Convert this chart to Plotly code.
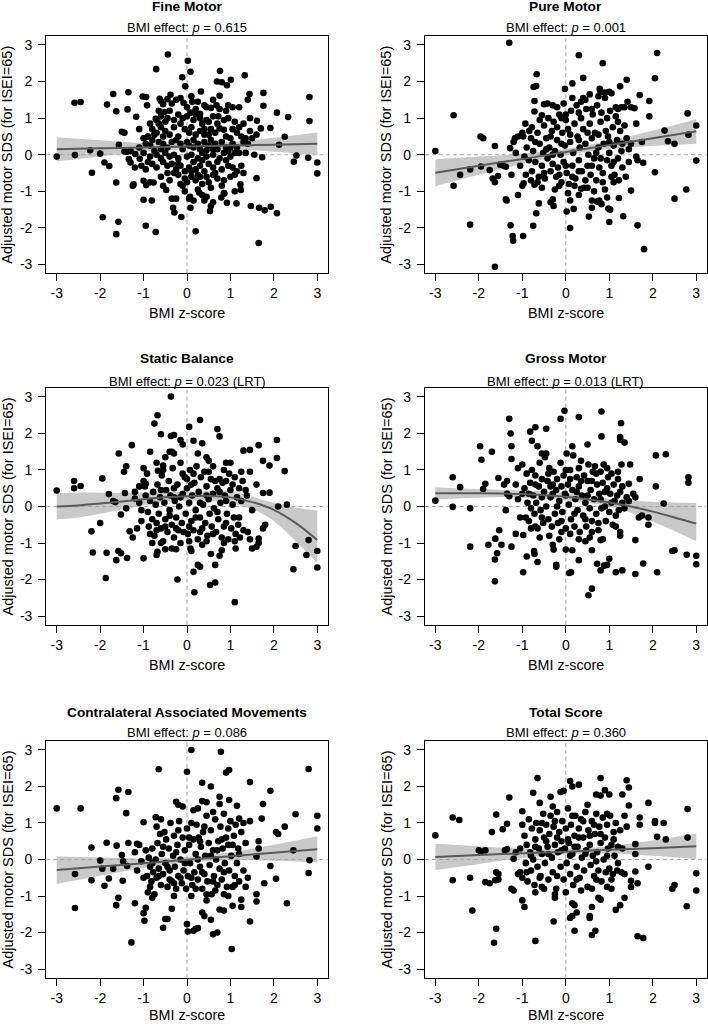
import plotly.graph_objects as go

FONT = "Liberation Sans, Arial, Helvetica, sans-serif"

# Panel texts
titles = ["Fine Motor", "Pure Motor", "Static Balance", "Gross Motor",
          "Contralateral Associated Movements", "Total Score"]
pvals = ["0.615", "0.001", "0.023 (LRT)", "0.013 (LRT)", "0.086", "0.360"]
tick_vals = [-3, -2, -1, 0, 1, 2, 3]
tick_labels = ["-3", "-2", "-1", "0", "1", "2", "3"]
x_title = "BMI z-score"
y_title = "Adjusted motor SDS (for ISEI=65)"

# Scatter points (BMI z-score, adjusted motor SDS)
fine_pts = [
    (-3.0, -0.05), (-2.58, -0.01), (-2.59, 1.42), (-2.45, 1.44), (-2.23, 0.12), (-2.19, -0.49), (-2.0, 0.03),
    (-1.94, -1.71), (-1.9, -0.21), (-1.79, -0.31), (-1.84, 1.37), (-1.7, 1.66), (-1.63, 1.19), (-1.63, -0.76),
    (-1.57, 0.27), (-1.58, -1.83), (-1.63, -2.17), (-1.5, 0.63), (-1.44, 0.6), (-1.35, 1.71), (-1.37, 1.24),
    (-1.38, 0.08), (-1.34, -0.12), (-1.3, -0.21), (-1.44, 0.09), (-1.23, -0.81), (-1.17, 1.04), (-1.19, 0.02),
    (-1.09, -0.11), (-1.02, 1.59), (-0.94, 1.58), (-1.0, -1.23), (-0.95, -1.94), (-1.0, -0.71), (-0.94, -0.83),
    (-0.92, 1.35), (-0.91, 0.49), (-0.81, -1.25), (-0.77, -0.76), (-0.72, -2.11), (-0.71, 2.34), (-0.63, 1.53),
    (-0.72, 0.98), (-0.52, 1.17), (-0.48, -0.96), (-0.44, 2.74), (-0.38, 1.64), (-0.32, -1.45), (-0.29, -1.58),
    (-0.13, -1.7), (-0.11, 2.12), (-0.04, 1.87), (0.02, 2.57), (0.08, 2.27), (0.07, -1.15), (0.08, -1.45),
    (0.2, -2.09), (0.32, 1.73), (0.28, -1.03), (0.53, -1.54), (0.75, 1.61), (0.76, 2.29), (0.8, 1.98),
    (0.69, 2.0), (0.79, -1.17), (0.86, -1.06), (0.92, 1.9), (1.01, 2.05), (0.92, -1.31), (1.14, -1.33),
    (1.23, -0.81), (1.24, -0.96), (1.33, 2.17), (1.4, 1.5), (1.44, 1.66), (1.47, -1.4), (1.6, -0.64),
    (1.61, 0.93), (1.66, -1.45), (1.65, -2.41), (1.73, -0.07), (1.76, 1.69), (1.76, 1.34), (1.7, 0.72),
    (1.79, -1.52), (1.92, 0.73), (1.93, -1.42), (2.07, 1.15), (2.07, -1.6), (2.12, 0.27), (2.25, 0.49),
    (2.33, 1.03), (2.46, -0.19), (2.52, -0.02), (2.82, 1.58), (2.82, 0.92), (2.79, -0.08), (3.0, -0.21),
    (3.0, -0.51),
    (-0.6, 1.47), (-0.55, 1.38), (-0.45, 1.52), (-0.35, 1.4), (-0.25, 1.5), (-0.15, 1.55), (-0.08, 1.42),
    (0.1, 1.6), (0.12, 1.45), (0.2, 1.25), (0.3, 1.12), (0.4, 1.35), (0.45, 1.3), (0.55, 1.28), (0.68, 1.35),
    (0.75, 1.25), (0.95, 1.35), (1.05, 1.3), (1.2, 1.3), (-0.7, 0.95), (-0.65, 0.85), (-0.6, 1.05),
    (-0.5, 0.9), (-0.45, 1.0), (-0.3, 0.95), (-0.2, 1.1), (-0.1, 1.0), (0.0, 1.05), (0.08, 1.15), (0.15, 0.95),
    (0.2, 1.1), (0.3, 1.0), (0.35, 0.85), (0.45, 0.95), (0.5, 0.9), (0.6, 1.05), (0.72, 1.05), (0.85, 0.95),
    (0.95, 1.0), (1.1, 0.9), (1.3, 0.85), (1.45, 1.0), (-0.8, 0.7), (-0.75, 0.55), (-0.7, 0.6), (-0.6, 0.75),
    (-0.5, 0.65), (-0.4, 0.55), (-0.3, 0.75), (-0.2, 0.5), (-0.05, 0.7), (0.05, 0.6), (0.1, 0.75), (0.2, 0.55),
    (0.3, 0.65), (0.4, 0.7), (0.5, 0.55), (0.55, 0.7), (0.65, 0.6), (0.75, 0.72), (0.85, 0.68), (0.9, 0.5),
    (1.0, 0.45), (1.05, 0.7), (1.15, 0.6), (1.25, 0.5), (1.35, 0.45), (1.5, 0.45), (1.6, 0.55), (-1.0, 0.45),
    (-0.9, 0.5), (-1.1, 0.2), (-0.95, 0.3), (-0.85, 0.25), (-0.8, 0.4), (-0.65, 0.35), (-0.55, 0.3),
    (-0.45, 0.2), (-0.35, 0.35), (-0.25, 0.4), (-0.15, 0.3), (-0.1, 0.15), (0.0, 0.35), (0.05, 0.25),
    (0.15, 0.4), (0.25, 0.3), (0.3, 0.15), (0.4, 0.35), (0.5, 0.25), (0.55, 0.4), (0.65, 0.3), (0.7, 0.15),
    (0.8, 0.35), (0.9, 0.2), (1.05, 0.3), (1.15, 0.2), (1.3, 0.35), (1.4, 0.3), (-1.3, 0.1), (-0.75, 0.1),
    (0.45, 0.12), (0.95, 0.1), (-1.0, 0.05), (-0.85, -0.05), (-0.7, 0.0), (-0.6, -0.1), (-0.5, 0.05),
    (-0.4, -0.05), (-0.3, 0.0), (-0.2, -0.1), (0.0, -0.05), (0.1, 0.0), (0.25, -0.1), (0.35, 0.05),
    (0.45, -0.05), (0.6, 0.0), (0.75, -0.1), (0.85, 0.05), (1.0, -0.05), (1.1, 0.05), (1.2, 0.05),
    (1.35, 0.05), (1.55, 0.0), (-1.2, -0.35), (-1.05, -0.3), (-0.95, -0.4), (-0.8, -0.25), (-0.7, -0.35),
    (-0.55, -0.2), (-0.45, -0.3), (-0.35, -0.25), (-0.25, -0.4), (-0.15, -0.3), (-0.05, -0.45), (0.05, -0.35),
    (0.15, -0.2), (0.2, -0.4), (0.3, -0.3), (0.4, -0.45), (0.5, -0.25), (0.6, -0.35), (0.7, -0.2),
    (0.8, -0.4), (0.95, -0.3), (1.05, -0.35), (1.15, -0.45), (1.25, -0.3), (-0.3, -0.5), (0.35, -0.15),
    (-1.25, -0.85), (-0.85, -0.75), (-0.6, -0.6), (-0.4, -0.7), (-0.2, -0.55), (-0.15, -0.8), (-0.05, -0.65),
    (0.0, -0.75), (0.1, -0.6), (0.2, -0.7), (0.25, -0.55), (0.35, -0.8), (0.45, -0.6), (0.5, -0.75),
    (0.6, -0.55), (0.7, -0.65), (0.85, -0.7), (1.0, -0.6), (1.1, -0.55), (-0.1, -0.85), (0.55, -0.9),
    (-0.35, -1.2), (-0.25, -1.2), (0.05, -1.2), (0.15, -1.25), (0.35, -1.1), (0.4, -1.25), (0.45, -1.15),
    (0.55, -1.4), (0.6, -1.3), (0.85, -1.05), (1.1, -1.0),
    (-0.65, 1.2), (-0.4, 1.2), (0.0, 1.3), (0.25, 1.45), (0.6, 1.5), (0.9, 1.2), (-0.85, 0.85), (-0.15, 0.85),
    (0.4, 0.55), (0.7, 0.85), (1.2, 0.75), (-0.55, 0.5), (0.15, 0.2), (0.6, 0.15), (-0.6, 0.15), (1.0, 0.2),
    (-0.45, -0.5), (0.1, -0.45), (0.65, -0.5), (-0.9, -0.2), (0.9, -0.15), (-0.2, -0.25), (0.3, -0.6),
    (0.8, -0.85), (-0.55, -0.85), (0.25, -0.95), (-0.05, -1.0), (1.3, -0.5), (1.45, 0.65), (-1.1, 0.7),
]

pure_pts = [
    (-3.0, 0.1), (-2.58, 1.08), (-2.58, -0.85), (-2.43, -0.55), (-2.2, -1.91), (-2.2, -0.4), (-1.96, 0.5),
    (-1.9, 0.45), (-1.95, -0.32), (-1.75, -0.42), (-1.63, 0.24), (-1.68, -0.65), (-1.63, -0.75), (-1.56, -0.58),
    (-1.63, -3.06), (-1.51, -0.27), (-1.45, -0.29), (-1.38, -0.33), (-1.3, 3.06), (-1.28, 0.18), (-1.38, -1.22),
    (-1.36, -1.25), (-1.27, -1.93), (-1.22, -2.22), (-1.21, -2.35), (-1.17, 0.45), (-1.2, 0.35), (-1.1, -1.1),
    (-0.98, -2.22), (-1.0, 0.6), (-0.98, 0.5), (-0.93, 0.85), (-0.97, -0.78), (-0.92, -0.55), (-0.84, 0.65),
    (-0.78, 0.75), (-0.74, 1.85), (-0.68, 1.88), (-0.67, 2.2), (-0.72, 1.47), (-0.72, 1.18), (-0.75, -1.94),
    (-0.68, -1.6), (-0.62, -1.33), (-0.72, -0.82), (-0.5, 1.38), (-0.42, 1.4), (-0.55, 1.08), (-0.3, 1.35),
    (-0.35, -1.3), (-0.28, -1.4), (-0.3, -1.22), (-0.1, 1.0), (-0.02, 1.8), (0.02, -1.55), (0.1, -2.0),
    (0.15, 1.95), (0.1, -1.25), (0.18, -1.48), (0.3, 2.72), (0.4, 2.1), (0.4, 1.55), (0.45, 1.5), (0.35, -0.93),
    (0.5, -0.9), (0.53, -1.69), (0.6, -1.45), (0.6, -1.25), (0.72, -1.28), (0.77, -1.25), (0.82, -1.35),
    (0.78, 1.8), (0.8, 1.72), (0.75, 1.6), (0.85, 2.5), (0.9, 1.55), (0.95, -1.17), (1.0, 1.72), (1.05, 1.68),
    (0.98, -1.47), (1.02, -1.5), (1.0, -1.84), (1.05, -0.6), (1.1, -0.75), (1.25, 1.87), (1.2, 1.25),
    (1.28, 1.3), (1.35, 1.3), (1.22, -1.18), (1.32, -1.68), (1.4, 2.05), (1.42, 1.45), (1.5, 1.3), (1.45, 0.15),
    (1.5, 0.3), (1.5, -0.98), (1.58, 1.27), (1.62, 0.85), (1.62, -0.05), (1.65, -0.15), (1.65, -1.93),
    (1.7, 1.63), (1.75, 0.35), (1.78, -0.22), (1.8, -2.58), (1.92, 1.47), (1.92, 1.05), (2.05, 2.09),
    (2.1, 2.78), (2.05, -0.48), (2.27, 0.66), (2.35, 0.37), (2.5, 0.3), (2.5, -1.2), (2.8, 1.13), (2.82, 0.55),
    (2.77, -0.95), (3.0, 0.8), (3.0, -0.16),
    (-0.9, 0.2), (-0.85, -0.15), (-0.8, 0.45), (-0.78, -0.45), (-0.75, 0.1), (-0.7, -0.2), (-0.65, 0.6),
    (-0.62, -0.6), (-0.6, 0.3), (-0.55, -0.3), (-0.52, 0.05), (-0.5, 0.8), (-0.48, -0.65), (-0.45, 0.45),
    (-0.42, -0.1), (-0.4, 1.0), (-0.38, 0.2), (-0.35, -0.45), (-0.32, 0.65), (-0.3, -0.25), (-0.28, 0.9),
    (-0.25, 0.1), (-0.22, -0.6), (-0.2, 0.4), (-0.18, -0.35), (-0.15, 1.1), (-0.12, 0.0), (-0.1, -0.75),
    (-0.08, 0.6), (-0.05, -0.2), (-0.02, 0.25), (0.0, 0.95), (0.02, -0.5), (0.05, 0.7), (0.07, -0.8),
    (0.1, 0.35), (0.12, 1.2), (0.15, -0.3), (0.17, 0.05), (0.2, 0.85), (0.22, -0.65), (0.25, 1.35),
    (0.27, 0.5), (0.3, -0.15), (0.32, 0.2), (0.35, 1.0), (0.37, -0.45), (0.4, 0.7), (0.42, -0.9), (0.45, 0.3),
    (0.47, 1.25), (0.5, -0.3), (0.52, 0.0), (0.55, 0.85), (0.57, -0.55), (0.6, 0.45), (0.62, 1.1),
    (0.65, -0.1), (0.67, 0.6), (0.7, -0.7), (0.72, 1.35), (0.75, 0.2), (0.77, -0.35), (0.8, 0.9), (0.82, 1.15),
    (0.85, -0.5), (0.87, 0.3), (0.9, -0.95), (0.92, 0.65), (0.95, -0.15), (0.97, 0.5), (1.0, 0.05),
    (1.02, 1.2), (1.05, -0.3), (1.08, 0.75), (1.1, 0.25), (1.12, -0.55), (1.15, 1.05), (1.18, 0.4),
    (1.2, -0.1), (1.22, -0.7), (1.25, 0.65), (1.28, 0.1), (1.3, -0.35), (1.35, 0.8), (1.38, -0.6), (1.4, 0.45),
    (1.45, -0.2), (-1.05, -0.3), (-1.1, 0.5), (-1.0, -0.85), (-0.95, -0.05), (-1.15, 0.05), (-1.25, -0.55),
    (-0.65, -0.75), (-0.25, -0.95), (0.05, -1.05), (0.2, -0.85), (0.3, -1.1), (-0.15, -0.85), (-0.55, -0.9),
    (0.65, -1.0), (0.9, 1.7), (0.55, 1.65), (-0.2, 1.3), (0.15, 1.55), (-0.6, 0.95), (0.35, 1.45), (-0.05, 1.4),
    (-0.7, 0.35), (-0.35, 0.5), (-0.1, 0.3), (0.1, 0.55), (0.3, 0.4), (0.5, 0.6), (0.75, 0.55), (1.0, 0.35),
    (1.2, 0.9), (0.6, 1.25), (0.3, 1.15), (0.0, 1.1), (-0.3, 0.0), (0.0, -0.3), (0.3, -0.45), (0.6, -0.3),
    (0.8, -0.1), (-0.5, -0.5), (-0.15, -0.55), (0.45, -0.7), (0.85, -0.75), (1.1, -0.2), (-0.8, -0.7),
    (0.15, -0.6), (-0.45, 0.15), (0.7, 0.05), (1.3, 0.3), (-0.2, 0.75), (0.95, 1.0), (1.15, 1.3),
]

static_pts = [
    (-3.0, 0.44), (-2.6, 0.7), (-2.6, 0.5), (-2.45, 0.56), (-2.2, -0.68), (-2.17, -1.26), (-2.0, -0.45),
    (-1.95, 0.77), (-1.87, -1.96), (-1.85, -1.27), (-1.8, 0.34), (-1.7, 0.15), (-1.65, 0.12), (-1.63, -1.47),
    (-1.58, -1.22), (-1.52, -1.28), (-1.57, 1.45), (-1.52, -0.22), (-1.45, 0.95), (-1.4, 1.1), (-1.43, 0.37),
    (-1.4, -0.05), (-1.38, -1.41), (-1.32, -0.68), (-1.27, 1.68), (-1.25, -0.85), (-1.2, 0.4), (-1.2, 0.22),
    (-1.0, -1.42), (-1.0, 1.05), (-1.0, 0.7), (-0.95, 0.62), (-0.97, 0.55), (-0.85, 1.5), (-0.75, 2.27),
    (-0.7, 1.2), (-0.67, 0.98), (-0.68, -1.24), (-0.7, -1.33), (-0.68, 2.5), (-0.6, 1.98), (-0.55, 1.12),
    (-0.5, 1.35), (-0.5, -1.17), (-0.37, 3.01), (-0.37, 1.93), (-0.3, 1.96), (-0.35, 1.5), (-0.3, 1.45),
    (-0.35, -1.15), (-0.25, -1.17), (-0.22, -2.0), (-0.1, 1.7), (-0.15, 1.82), (0.05, 2.18), (0.15, 1.8),
    (0.1, -1.22), (0.08, -1.15), (0.15, -1.79), (0.17, -2.35), (0.25, -1.6), (0.3, -1.65), (0.3, 2.37),
    (0.35, 1.73), (0.45, 1.35), (0.5, 1.25), (0.53, -2.15), (0.65, -2.08), (0.55, -1.3), (0.65, -1.6),
    (0.7, 2.12), (0.75, 1.92), (0.75, -1.35), (0.8, -1.2), (0.9, 1.2), (1.0, 1.2), (1.1, -2.62), (1.12, -1.15),
    (1.3, 1.53), (1.45, 1.55), (1.45, -0.9), (1.5, -1.15), (1.6, 0.6), (1.65, 1.68), (1.6, -1.1), (1.65, -1.0),
    (1.65, -0.88), (1.75, 1.25), (1.9, 1.12), (1.75, 0.37), (1.9, 0.38), (1.75, -0.6), (1.8, -0.5),
    (2.07, 1.82), (2.07, 1.33), (2.1, 0.0), (2.25, 0.97), (2.3, 0.05), (2.45, -1.72), (2.5, -1.08),
    (2.8, -0.92), (2.75, -1.33), (3.0, -1.22), (3.0, -1.67),
    (-0.95, 0.3), (-0.9, -0.15), (-0.88, -0.55), (-0.85, 0.15), (-0.8, -0.35), (-0.78, 0.4), (-0.75, -0.8),
    (-0.72, 0.05), (-0.7, -0.45), (-0.68, 0.6), (-0.65, -0.2), (-0.62, 0.25), (-0.6, -0.6), (-0.58, 0.85),
    (-0.55, -0.95), (-0.52, 0.1), (-0.5, -0.35), (-0.48, 0.45), (-0.45, -0.7), (-0.42, 0.7), (-0.4, -0.1),
    (-0.38, 0.3), (-0.35, -0.5), (-0.33, 1.05), (-0.3, -0.85), (-0.28, 0.15), (-0.25, -0.3), (-0.22, 0.6),
    (-0.2, -0.65), (-0.18, 0.0), (-0.15, 1.2), (-0.12, -0.45), (-0.1, 0.35), (-0.08, -0.7), (-0.05, 0.8),
    (-0.03, -0.2), (0.0, 0.5), (0.02, -0.75), (0.05, 0.1), (0.07, 1.0), (0.1, -0.4), (0.12, 0.3),
    (0.15, -0.65), (0.17, 0.65), (0.2, -0.1), (0.22, 1.1), (0.25, -0.9), (0.27, 0.4), (0.3, -0.3),
    (0.32, 0.8), (0.35, -0.6), (0.37, 0.05), (0.4, 0.95), (0.42, -0.45), (0.45, 0.55), (0.47, -0.8),
    (0.5, 0.2), (0.52, -0.2), (0.55, 0.75), (0.57, -0.55), (0.6, 0.35), (0.62, -0.05), (0.65, 0.7),
    (0.67, -0.7), (0.7, 0.5), (0.72, -0.35), (0.75, 0.75), (0.77, 0.1), (0.8, -0.85), (0.82, 0.65),
    (0.85, -0.55), (0.87, 0.3), (0.9, 0.7), (0.92, -0.2), (0.95, -0.9), (0.97, 0.9), (1.0, 0.45),
    (1.02, -0.6), (1.05, 0.05), (1.08, -0.3), (1.1, 0.8), (1.12, -0.75), (1.15, 0.25), (1.18, -0.5),
    (1.2, 0.5), (1.22, -0.85), (1.25, 0.15), (1.28, 0.7), (1.3, -0.65), (1.35, 0.45), (1.38, 0.3),
    (1.4, -0.7), (1.45, 0.95), (1.5, -0.1), (-1.1, 0.55), (-1.05, -0.1), (-1.05, -0.4), (-1.15, -0.6),
    (-1.1, 0.1), (-0.92, 0.9), (-0.4, 1.5), (0.25, 1.45), (0.6, 1.1), (0.15, 0.9), (-0.15, -1.0),
    (0.35, -1.05), (-0.6, -1.0), (0.85, -1.0), (0.05, -0.95), (-0.8, -1.0),
    (-0.6, 0.45), (-0.3, 0.5), (0.1, 0.6), (0.45, 0.3), (0.75, 0.4), (1.05, 0.6), (-0.15, 0.25), (0.3, 0.1),
    (0.9, 0.15), (-0.5, -0.55), (-0.25, -0.6), (0.05, -0.55), (0.3, -0.7), (0.6, -0.75), (0.9, -0.45),
    (1.2, -0.3), (-0.7, -0.65), (-0.4, -0.25), (0.2, -0.3), (0.7, -0.15), (-0.1, 0.9), (0.5, 0.95),
    (0.85, 1.0), (-0.55, 1.0), (1.25, 0.95), (-0.85, -0.75), (0.45, -0.95), (1.1, -0.95), (-0.3, 0.25),
    (0.0, 0.75),
]

gross_pts = [
    (-3.0, 0.16), (-2.6, 0.8), (-2.6, -0.01), (-2.43, 0.53), (-2.2, -0.05), (-2.2, -1.1), (-1.97, 1.65),
    (-1.94, 1.28), (-1.9, 0.48), (-1.85, 0.62), (-1.78, -1.05), (-1.7, 1.5), (-1.63, -2.05), (-1.62, -0.88),
    (-1.63, -1.45), (-1.58, -1.28), (-1.55, 0.78), (-1.48, -1.05), (-1.53, -0.65), (-1.42, 0.6), (-1.35, 0.7),
    (-1.38, -0.1), (-1.3, 2.4), (-1.27, 2.0), (-1.25, 1.65), (-1.25, -1.1), (-1.25, 1.3), (-1.35, 0.35),
    (-1.3, 0.28), (-1.15, 0.6), (-1.1, 1.05), (-1.0, 1.15), (-0.98, -1.8), (-0.98, -0.78), (-0.9, -1.37),
    (-0.82, 2.05), (-0.78, 1.8), (-0.7, 2.17), (-0.72, -1.3), (-0.73, -1.22), (-0.65, -1.52), (-0.65, 1.65),
    (-0.7, -0.55), (-0.45, 2.13), (-0.45, 1.45), (-0.38, -0.8), (-0.3, -1.05), (-0.28, -1.18), (-0.22, -1.6),
    (-0.22, -1.65), (-0.12, 2.4), (-0.03, 2.62), (0.0, -1.18), (0.08, -1.82), (0.12, -1.8), (0.15, -1.2),
    (0.3, 2.45), (0.3, -1.47), (0.5, 1.7), (0.52, -2.43), (0.6, -2.25), (0.55, -0.85), (0.6, -1.2),
    (0.72, -1.57), (0.82, 2.6), (0.82, 1.92), (0.8, -1.75), (0.88, -1.62), (0.95, -1.6), (1.0, -1.43),
    (0.8, -0.92), (1.15, -1.8), (1.27, 2.28), (1.25, 1.9), (1.25, 1.83), (1.35, 1.75), (1.28, 1.15),
    (1.48, 1.15), (1.3, -1.75), (1.25, -0.8), (1.25, -0.7), (1.45, 0.62), (1.6, -0.92), (1.6, -1.85),
    (1.55, 0.35), (1.6, 0.25), (1.7, 0.75), (1.68, -0.3), (1.75, -0.25), (1.78, -1.56), (1.9, -0.3),
    (1.9, -0.5), (2.07, 1.4), (2.07, 0.55), (2.1, -1.8), (2.3, 1.43), (2.25, 0.08), (2.45, -1.22),
    (2.5, -1.2), (2.78, -1.32), (2.82, 0.8), (2.82, 0.65), (3.0, -1.35), (3.0, -1.58),
    (-0.95, 0.5), (-0.92, -0.3), (-0.9, 0.9), (-0.88, 0.1), (-0.85, -0.4), (-0.82, 0.65), (-0.8, -0.05),
    (-0.78, 1.0), (-0.75, 0.3), (-0.72, -0.2), (-0.7, 0.85), (-0.68, 0.1), (-0.65, -0.6), (-0.62, 0.55),
    (-0.6, 1.2), (-0.58, -0.1), (-0.55, 0.75), (-0.52, -0.45), (-0.5, 0.4), (-0.48, 1.35), (-0.45, 0.0),
    (-0.42, 0.7), (-0.4, -0.35), (-0.38, 1.05), (-0.35, 0.25), (-0.32, -0.55), (-0.3, 0.6), (-0.28, 0.95),
    (-0.25, -0.2), (-0.22, 0.45), (-0.2, 0.75), (-0.18, -0.45), (-0.15, 0.15), (-0.12, 1.2), (-0.1, 0.55),
    (-0.08, -0.15), (-0.05, 0.85), (-0.02, 0.35), (0.0, -0.6), (0.02, 1.45), (0.05, 0.6), (0.07, 0.05),
    (0.1, 1.0), (0.12, -0.35), (0.15, 0.45), (0.17, 1.4), (0.2, -0.55), (0.22, 0.2), (0.25, 0.8),
    (0.27, -0.1), (0.3, 0.55), (0.32, -0.7), (0.35, 1.25), (0.37, 0.3), (0.4, -0.25), (0.42, 0.85),
    (0.45, 0.1), (0.47, -0.55), (0.5, 0.7), (0.52, 1.15), (0.55, -0.05), (0.57, 0.45), (0.6, -0.4),
    (0.62, 0.95), (0.65, 0.2), (0.67, 1.1), (0.7, -0.2), (0.72, 0.6), (0.75, -0.65), (0.77, 0.35),
    (0.8, 0.95), (0.82, -0.05), (0.85, 0.65), (0.87, 1.15), (0.9, 0.0), (0.92, -0.4), (0.95, 0.5),
    (0.97, 0.8), (1.0, -0.15), (1.02, 0.35), (1.05, 0.9), (1.08, -0.5), (1.1, 0.6), (1.12, 0.15),
    (1.15, -0.25), (1.18, 0.3), (1.2, 0.75), (1.22, -0.1), (1.25, 0.4), (1.3, 0.1), (1.35, -0.05),
    (1.4, 0.25), (1.45, 0.15), (-1.1, 0.2), (-1.05, -0.3), (-1.15, -0.75), (-1.0, 0.35), (-0.55, 1.45),
    (0.15, 1.65), (-0.15, -0.9), (0.3, -0.9), (0.1, -0.75), (-0.6, -0.85), (0.45, -0.95), (0.85, -0.9),
    (1.3, 0.55),
    (-0.85, 0.35), (-0.55, 0.25), (-0.3, 0.35), (0.0, 0.3), (0.25, 0.4), (0.5, 0.3), (0.8, 0.2), (1.05, 0.1),
    (-0.4, 0.9), (0.0, 1.0), (0.3, 1.05), (0.6, 0.7), (0.95, 1.05), (-0.7, 0.6), (-0.2, 0.0), (0.2, -0.2),
    (0.45, -0.35), (0.75, -0.45), (1.15, -0.55), (-0.55, -0.3), (-0.1, -0.4), (0.35, 0.7), (0.7, 0.9),
    (-0.35, 0.55), (0.1, 0.75), (0.6, -0.7), (-0.8, -0.6), (0.9, 0.4), (1.2, 0.95), (-0.1, -0.7),
]

cam_pts = [
    (-3.0, 1.4), (-2.58, -0.4), (-2.58, -1.33), (-2.45, 1.4), (-2.2, 0.33), (-2.2, -0.57), (-2.0, -0.03),
    (-1.95, -0.25), (-1.85, 0.46), (-1.8, -0.52), (-1.9, -0.72), (-1.7, -0.25), (-1.63, 1.68), (-1.58, 1.91),
    (-1.62, 0.38), (-1.63, -1.25), (-1.58, -1.05), (-1.5, 0.12), (-1.47, -0.05), (-1.48, -0.58), (-1.4, 1.27),
    (-1.35, 1.85), (-1.35, 0.45), (-1.38, -0.18), (-1.28, -2.27), (-1.2, 0.2), (-1.15, 0.43), (-1.2, -1.2),
    (-1.0, 1.02), (-1.0, -1.47), (-0.98, -1.68), (-0.95, -1.32), (-0.72, 1.16), (-0.65, 2.47), (-0.55, -1.87),
    (-0.5, -1.63), (-0.45, -1.63), (-0.35, -1.35), (-0.25, 1.58), (-0.2, 1.5), (0.0, 2.4), (0.1, 3.0),
    (0.0, -1.77), (0.02, -1.97), (0.15, -1.95), (0.2, -1.9), (0.25, -1.88), (0.15, 1.35), (0.35, 2.1),
    (0.35, 1.6), (0.45, 1.57), (0.55, 2.0), (0.6, -2.05), (0.7, -2.0), (0.45, -1.12), (0.35, -1.45),
    (0.4, -1.55), (0.55, -1.65), (0.78, 2.95), (0.75, 1.72), (0.75, 1.52), (0.75, -1.37), (0.85, -1.4),
    (0.9, 2.38), (0.97, 2.45), (0.97, 1.63), (0.95, -1.0), (1.03, -2.45), (1.05, -1.27), (1.15, 1.47),
    (1.2, 1.12), (1.25, -1.1), (1.25, -1.3), (1.45, 2.12), (1.45, 1.05), (1.45, -1.7), (1.6, -0.95),
    (1.6, -1.15), (1.6, 0.08), (1.65, 0.3), (1.65, 0.5), (1.75, 1.52), (1.72, 1.12), (1.78, -0.65),
    (1.92, 1.88), (1.92, -0.18), (2.05, 0.75), (2.1, 0.7), (2.05, -0.53), (2.25, 0.9), (2.3, -1.2),
    (2.45, 0.25), (2.5, 1.24), (2.8, 2.48), (2.8, -0.37), (2.82, -0.02), (3.0, 1.2), (3.0, 0.85),
    (-0.95, 0.25), (-0.92, -0.45), (-0.9, -0.9), (-0.88, 0.05), (-0.85, -0.2), (-0.82, -0.6), (-0.8, 0.3),
    (-0.78, -0.35), (-0.75, -0.95), (-0.72, 0.0), (-0.7, -0.5), (-0.68, 0.45), (-0.65, -0.25), (-0.62, 0.7),
    (-0.6, -0.7), (-0.58, 0.15), (-0.55, -0.4), (-0.52, 0.75), (-0.5, -0.1), (-0.48, 0.55), (-0.45, -0.75),
    (-0.42, 0.3), (-0.4, -0.3), (-0.38, 1.0), (-0.35, -0.6), (-0.32, 0.1), (-0.3, 0.65), (-0.28, -0.2),
    (-0.25, -0.8), (-0.22, 0.4), (-0.2, -0.45), (-0.18, 1.05), (-0.15, 0.0), (-0.12, -0.65), (-0.1, 0.6),
    (-0.08, -0.3), (-0.05, 0.25), (-0.02, -0.8), (0.0, 0.85), (0.02, -0.45), (0.05, 0.4), (0.07, -0.1),
    (0.1, 1.0), (0.12, -0.7), (0.15, 0.55), (0.17, -0.35), (0.2, 0.15), (0.22, 0.95), (0.25, -0.55),
    (0.27, 0.6), (0.3, -0.2), (0.32, 0.35), (0.35, -0.8), (0.37, 0.75), (0.4, -0.4), (0.42, 0.1),
    (0.45, 1.2), (0.47, -0.6), (0.5, 0.45), (0.52, -0.15), (0.55, 0.8), (0.57, -0.95), (0.6, 0.25),
    (0.62, -0.45), (0.65, 1.1), (0.67, 0.0), (0.7, -0.7), (0.72, 0.5), (0.75, -0.25), (0.77, 0.9),
    (0.8, -0.55), (0.82, 0.3), (0.85, 1.25), (0.87, -0.1), (0.9, 0.6), (0.92, -0.75), (0.95, 0.4),
    (0.97, -0.3), (1.0, 1.05), (1.02, 0.1), (1.05, -0.75), (1.08, 0.65), (1.1, -0.45), (1.12, 0.95),
    (1.15, -0.1), (1.18, 0.3), (1.2, -0.6), (1.25, 0.75), (1.3, -0.3), (1.35, 0.45), (1.4, -0.5),
    (-1.05, -0.05), (-1.1, 0.4), (-1.0, -0.5), (-1.15, -0.3), (-0.6, 1.1), (0.25, 1.4), (-0.1, 1.45),
    (0.6, 1.3), (-0.3, -1.0), (0.1, -1.0), (0.45, -0.95), (-0.8, -1.05), (0.85, -0.95), (1.3, 1.0),
    (-0.65, -0.45), (-0.4, -0.55), (-0.15, -0.5), (0.1, -0.5), (0.35, -0.35), (0.6, -0.6), (0.85, -0.35),
    (1.1, -0.7), (-0.55, 0.35), (-0.25, 0.2), (0.05, 0.6), (0.3, 0.5), (0.55, 0.1), (0.8, 0.55), (1.05, 0.4),
    (-0.8, -0.1), (-0.45, -0.2), (-0.05, -0.1), (0.25, 0.0), (0.7, 0.25), (0.95, 0.85), (-0.2, 0.8),
    (0.4, 0.9), (-0.7, 0.9), (1.2, 0.15), (0.2, -0.8), (-0.3, -0.65), (0.65, -0.85), (-0.85, -0.75),
    (1.35, -0.75),
]

total_pts = [
    (-3.0, 0.66), (-2.6, 1.15), (-2.45, 1.08), (-2.6, -0.57), (-2.2, -0.5), (-2.15, -1.4), (-2.0, 0.25),
    (-1.95, 0.22), (-1.85, 0.25), (-1.85, -0.62), (-1.75, -0.65), (-1.7, 0.75), (-1.6, -0.35), (-1.55, -0.4),
    (-1.62, -0.57), (-1.55, -0.55), (-1.6, 1.23), (-1.65, -2.28), (-1.6, -1.9), (-1.45, 0.83), (-1.35, 0.98),
    (-1.4, 0.25), (-1.35, 0.28), (-1.3, 1.7), (-1.25, -0.8), (-1.2, -0.85), (-1.2, 0.02), (-1.05, -0.35),
    (-1.0, -0.5), (-1.0, -1.12), (-0.95, -1.3), (-1.0, 1.32), (-0.7, -2.23), (-0.75, 1.83), (-0.65, 2.23),
    (-0.6, 1.55), (-0.55, -0.75), (-0.35, 1.72), (-0.28, -1.7), (-0.25, -0.95), (-0.25, -1.05), (-0.12, 1.85),
    (-0.05, 1.88), (0.1, 2.15), (0.15, 2.0), (0.3, 2.05), (0.1, -1.6), (0.15, -1.55), (0.15, -1.2),
    (0.2, -1.25), (0.2, -1.95), (0.25, -1.45), (0.55, -1.55), (0.55, -1.6), (0.6, -2.07), (0.68, -1.95),
    (0.6, -1.3), (0.75, -1.05), (0.8, -1.1), (0.7, 1.78), (0.8, 2.23), (0.8, 1.75), (0.9, 1.9), (1.0, 1.78),
    (1.05, -0.8), (1.15, -1.38), (1.25, -1.25), (1.3, 1.78), (1.4, 2.17), (1.45, 1.97), (1.45, 1.48),
    (1.35, -1.05), (1.5, -0.75), (1.5, -0.58), (1.6, 0.42), (1.6, 0.15), (1.6, -0.33), (1.65, -2.1),
    (1.78, -2.15), (1.65, -0.65), (1.7, 1.15), (1.7, 0.95), (1.9, 1.55), (1.9, -0.2), (2.05, 1.05),
    (2.05, 1.0), (2.1, 0.62), (2.25, 1.0), (2.3, 0.55), (2.45, -0.8), (2.5, -0.7), (2.8, 1.38), (2.8, 0.6),
    (2.78, -1.28), (3.0, -0.38), (3.0, -0.85),
    (-0.95, 0.65), (-0.92, -0.1), (-0.9, 0.4), (-0.88, -0.6), (-0.85, 1.1), (-0.82, 0.2), (-0.8, -0.3),
    (-0.78, 0.85), (-0.75, 0.0), (-0.72, -0.7), (-0.7, 0.55), (-0.68, 1.0), (-0.65, -0.2), (-0.62, 0.3),
    (-0.6, 0.8), (-0.58, -0.45), (-0.55, 0.15), (-0.52, 1.25), (-0.5, 0.6), (-0.48, -0.1), (-0.45, 0.95),
    (-0.42, 0.35), (-0.4, -0.55), (-0.38, 0.7), (-0.35, 1.2), (-0.32, 0.05), (-0.3, -0.35), (-0.28, 0.9),
    (-0.25, 0.4), (-0.22, -0.8), (-0.2, 1.3), (-0.18, 0.2), (-0.15, 0.75), (-0.12, -0.2), (-0.1, 0.5),
    (-0.08, 1.05), (-0.05, -0.55), (-0.02, 0.3), (0.0, 0.85), (0.02, -0.1), (0.05, 1.4), (0.07, 0.45),
    (0.1, -0.4), (0.12, 0.95), (0.15, 0.15), (0.17, -0.7), (0.2, 0.65), (0.22, 1.2), (0.25, -0.2),
    (0.27, 0.35), (0.3, 0.85), (0.32, -0.5), (0.35, 1.1), (0.37, 0.05), (0.4, 0.6), (0.42, -0.3),
    (0.45, 1.3), (0.47, 0.25), (0.5, -0.75), (0.52, 0.8), (0.55, 0.4), (0.57, -0.15), (0.6, 1.05),
    (0.62, 0.1), (0.65, -0.45), (0.67, 0.7), (0.7, 1.25), (0.72, 0.2), (0.75, -0.3), (0.77, 0.9),
    (0.8, 0.45), (0.82, -0.6), (0.85, 1.15), (0.87, 0.0), (0.9, 0.6), (0.92, -0.35), (0.95, 0.95),
    (0.97, 0.3), (1.0, -0.25), (1.02, 1.2), (1.05, 0.4), (1.08, -0.4), (1.1, 0.75), (1.12, 0.1),
    (1.15, 1.0), (1.18, -0.3), (1.2, 0.35), (1.25, 0.8), (1.28, -0.35), (1.3, 0.3), (1.35, -0.4),
    (1.4, 0.9), (-1.05, 0.3), (-1.1, -0.4), (-1.0, 0.95), (-1.15, 0.2), (-0.7, -0.9), (0.35, -0.85),
    (0.0, -0.9), (0.6, -0.8), (-0.5, -0.8), (0.95, -0.75), (-0.3, 1.45), (0.5, 1.5),
    (-0.7, 0.35), (-0.45, 0.5), (-0.2, 0.6), (0.05, 0.55), (0.3, 0.6), (0.55, 0.65), (0.8, 0.7), (1.1, 0.55),
    (-0.55, 1.0), (-0.25, 1.05), (0.15, 1.2), (0.4, 1.05), (0.65, 0.95), (0.95, 1.25), (-0.8, 0.1),
    (-0.4, 0.15), (-0.1, 0.25), (0.2, 0.35), (0.45, 0.15), (0.7, -0.05), (0.95, 0.1), (1.2, -0.1),
    (-0.6, -0.5), (-0.2, -0.45), (0.25, -0.55), (0.7, -0.55), (1.05, -0.55), (-0.9, -0.35), (0.1, 0.1),
    (1.35, 1.2),
]

# Fitted curves and 95% bands, read at fixed BMI z-scores
lin_x = [-3, -2, -1, 0, 1, 2, 3]
fine_fit = [0.15, 0.175, 0.20, 0.225, 0.25, 0.275, 0.30]
fine_hi = [0.48, 0.395, 0.32, 0.305, 0.35, 0.465, 0.61]
fine_lo = [-0.18, -0.045, 0.08, 0.145, 0.15, 0.085, -0.01]
pure_fit = [-0.49, -0.30, -0.115, 0.075, 0.265, 0.45, 0.64]
pure_hi = [-0.12, -0.05, 0.025, 0.165, 0.375, 0.66, 0.98]
pure_lo = [-0.86, -0.55, -0.255, -0.015, 0.155, 0.24, 0.30]
cam_fit = [-0.29, -0.195, -0.10, -0.005, 0.09, 0.185, 0.28]
cam_hi = [0.09, 0.055, 0.03, 0.075, 0.20, 0.405, 0.64]
cam_lo = [-0.67, -0.445, -0.23, -0.085, -0.02, -0.035, -0.08]
total_fit = [0.07, 0.12, 0.17, 0.215, 0.265, 0.31, 0.36]
total_hi = [0.43, 0.36, 0.30, 0.295, 0.365, 0.52, 0.71]
total_lo = [-0.29, -0.12, 0.04, 0.135, 0.165, 0.10, 0.01]

curve_x = [-3, -2.5, -2, -1.5, -1, -0.5, 0, 0.5, 1, 1.5, 2, 2.5, 3]
static_fit = [0.0, 0.03, 0.08, 0.14, 0.2, 0.25, 0.28, 0.29, 0.25, 0.12, -0.09, -0.45, -0.92]
static_hi = [0.37, 0.38, 0.38, 0.38, 0.38, 0.40, 0.41, 0.42, 0.42, 0.27, 0.1, -0.03, -0.11]
static_lo = [-0.35, -0.30, -0.20, -0.08, 0.03, 0.12, 0.16, 0.16, 0.09, -0.07, -0.40, -0.95, -1.55]
gross_fit = [0.36, 0.36, 0.36, 0.355, 0.34, 0.31, 0.27, 0.2, 0.11, 0.0, -0.14, -0.3, -0.47]
gross_hi = [0.53, 0.50, 0.48, 0.46, 0.44, 0.41, 0.37, 0.30, 0.21, 0.16, 0.13, 0.11, 0.10]
gross_lo = [0.19, 0.22, 0.24, 0.25, 0.24, 0.21, 0.17, 0.10, 0.0, -0.17, -0.41, -0.67, -0.95]

ref_level = 0  # dashed reference lines at x = 0 and y = 0
ax_range = [-3.24, 3.24]

panels = [
    (fine_pts, lin_x, fine_fit, fine_lo, fine_hi),
    (pure_pts, lin_x, pure_fit, pure_lo, pure_hi),
    (static_pts, curve_x, static_fit, static_lo, static_hi),
    (gross_pts, curve_x, gross_fit, gross_lo, gross_hi),
    (cam_pts, lin_x, cam_fit, cam_lo, cam_hi),
    (total_pts, lin_x, total_fit, total_lo, total_hi),
]

# layout geometry (pixels on the 708x1024 page)
W, H = 708, 1024
col_px = [(46.3, 327.7), (424.9, 706.7)]
row_px = [(36.2, 273.3), (388.2, 624.8), (741.2, 977.8)]
title_px = [6, 358, 712]
sub_px = [27.5, 381, 732]
xlab_px = [313, 665, 1015]
ylab_px = [7, 386]

fig = go.Figure()
annotations = []

for i, (pts, bx, fit, lo, hi) in enumerate(panels):
    n = i + 1
    r, c = divmod(i, 2)
    xa = "x" if n == 1 else f"x{n}"
    ya = "y" if n == 1 else f"y{n}"
    common = dict(xaxis=xa, yaxis=ya, showlegend=False, hoverinfo="skip")

    fig.add_trace(go.Scatter(x=bx, y=lo, mode="lines",
                             line=dict(width=0, shape="spline"), **common))
    fig.add_trace(go.Scatter(x=bx, y=hi, mode="lines", fill="tonexty",
                             fillcolor="#c9c9c9",
                             line=dict(width=0, shape="spline"), **common))
    fig.add_trace(go.Scatter(x=[ref_level, ref_level], y=ax_range, mode="lines",
                             line=dict(color="#a6a6a6", width=1.1, dash="4px,3px"), **common))
    fig.add_trace(go.Scatter(x=ax_range, y=[ref_level, ref_level], mode="lines",
                             line=dict(color="#a6a6a6", width=1.1, dash="4px,3px"), **common))
    xs, ys = zip(*pts)
    fig.add_trace(go.Scatter(x=xs, y=ys, mode="markers",
                             marker=dict(color="black", size=6.6, line=dict(width=0)), **common))
    fig.add_trace(go.Scatter(x=bx, y=fit, mode="lines",
                             line=dict(color="#5a5a5a", width=2, shape="spline"), **common))

    x0, x1 = col_px[c]
    y0, y1 = row_px[r]
    axis_common = dict(range=ax_range, tickvals=tick_vals, ticktext=tick_labels,
                       showline=True, mirror=True, linecolor="black", linewidth=1.2,
                       ticks="outside", ticklen=7, tickwidth=1, tickcolor="black",
                       showgrid=False, zeroline=False,
                       tickfont=dict(family=FONT, size=14, color="black"))
    fig.update_layout(**{
        f"xaxis{'' if n == 1 else n}": dict(domain=[x0 / W, x1 / W], anchor=ya,
                                           ticklabelstandoff=0, **axis_common),
        f"yaxis{'' if n == 1 else n}": dict(domain=[1 - y1 / H, 1 - y0 / H], anchor=xa,
                                           ticklabelstandoff=3, **axis_common),
    })

    cx = (x0 + x1) / 2 / W
    annotations.append(dict(text=f"<b>{titles[i]}</b>", x=cx, y=1 - title_px[r] / H,
                            font=dict(family=FONT, size=13.7, color="black")))
    annotations.append(dict(text=f"BMI effect: <i>p</i> = {pvals[i]}", x=cx, y=1 - sub_px[r] / H,
                            font=dict(family=FONT, size=13, color="black")))
    annotations.append(dict(text=x_title, x=cx, y=1 - xlab_px[r] / H,
                            font=dict(family=FONT, size=14.3, color="black")))
    annotations.append(dict(text=y_title, x=ylab_px[c] / W, y=1 - (y0 + y1) / 2 / H, textangle=-90,
                            font=dict(family=FONT, size=14.5, color="black")))

for a in annotations:
    a.update(xref="paper", yref="paper", showarrow=False, xanchor="center", yanchor="middle")

fig.update_layout(
    width=W, height=H,
    margin=dict(l=0, r=0, t=0, b=0),
    paper_bgcolor="white", plot_bgcolor="white",
    annotations=annotations,
    font=dict(family=FONT, color="black"),
)

fig.write_html("out.html", config={"displayModeBar": False},
               post_script="document.body.style.margin='0';")
